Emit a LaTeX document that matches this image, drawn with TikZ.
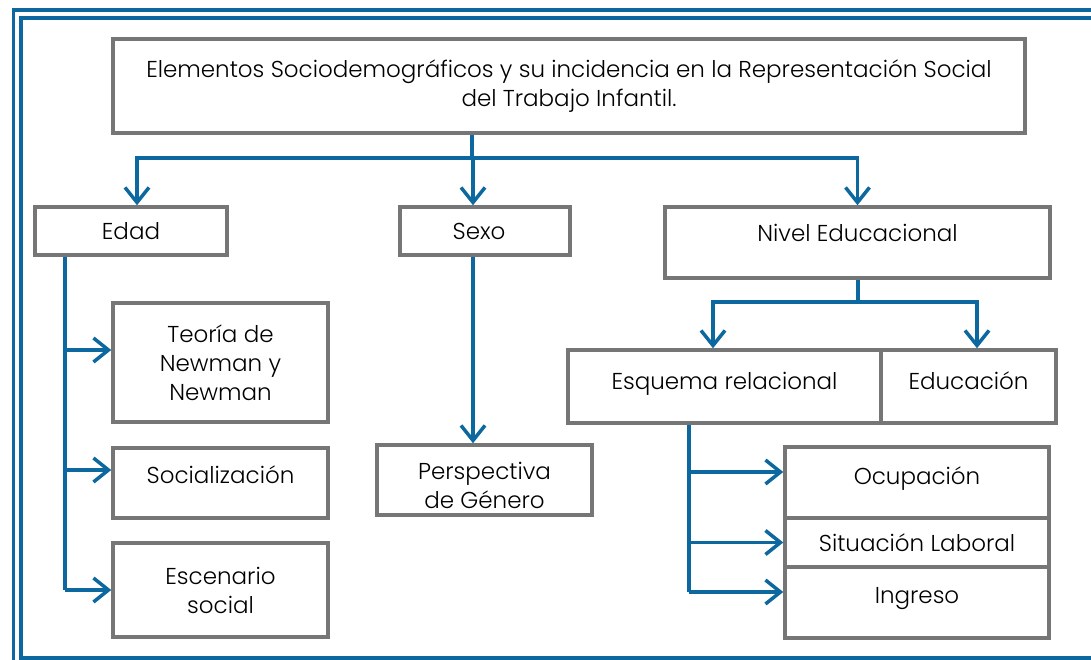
\documentclass[tikz,border=0pt]{standalone}
\usepackage{fontspec}
\setmainfont{Poppins}[UprightFont=* Light]
\usepackage{tikz}
\usetikzlibrary{arrows.meta}

\definecolor{frameblue}{RGB}{12,104,158}
\definecolor{boxgray}{RGB}{118,118,118}

\begin{document}
\begin{tikzpicture}[x=1pt,y=-1pt,
    box/.style={draw=boxgray, line width=3.5pt, inner sep=0pt, align=center,
        font=\fontsize{23}{29}\selectfont},
    link/.style={draw=frameblue, line width=3.5pt},
    tip/.style={-{Straight Barb[length=15pt,width=24pt]}}]

\useasboundingbox (0,0) rectangle (1091,660);
\clip (0,0) rectangle (1091,660);

% ---- Frame ----
\draw[frameblue, line width=3.5pt] (13.5,10) rectangle (1110,680);
\draw[frameblue, line width=3.5pt] (21,18) rectangle (1100,658);

% ---- Boxes ----
\node[box, minimum width=912pt, minimum height=94pt] (title) at (569,86)
    {Elementos Sociodemográficos y su incidencia en la Representación Social\\del Trabajo Infantil.};
\node[box, minimum width=192pt, minimum height=48pt] (edad) at (131,231) {Edad};
\node[box, minimum width=170pt, minimum height=48pt] (sexo) at (485,231) {Sexo\hspace{12pt}};
\node[box, minimum width=385pt, minimum height=71pt, text depth=20pt] (nivel) at (857.5,242.5) {Nivel Educacional};

\node[box, minimum width=215pt, minimum height=119pt] (teoria) at (220.5,362.5) {Teoría de\\Newman y\\Newman};
\node[box, minimum width=215pt, minimum height=70pt, text depth=16pt] (social) at (220.5,483) {Socialización};
\node[box, minimum width=215pt, minimum height=94pt] (escen) at (220.5,590) {Escenario\\social};

\node[box, minimum width=215pt, minimum height=70pt, text height=56pt, text depth=0pt] (persp) at (484.5,480) {Perspectiva\\de Género};

\node[box, minimum width=313pt, minimum height=73pt, text depth=12pt] (esquema) at (724.5,386.5) {Esquema relacional};
\node[box, minimum width=175pt, minimum height=73pt, text depth=12pt] (educ) at (968.5,386.5) {Educación};

\node[box, minimum width=264pt, minimum height=71pt, text depth=14pt] (ocup) at (917,482.5) {Ocupación};
\node[box, minimum width=264pt, minimum height=49pt] (situ) at (917,542.5) {Situación Laboral};
\node[box, minimum width=264pt, minimum height=71pt, text depth=14pt] (ingreso) at (917,602.5) {Ingreso};

% ---- Junctions ----
\coordinate (hub) at (472,158);
\coordinate (nhub) at (858,302);
\coordinate (ecol) at (65,590);
\coordinate (qcol) at (689,592);

% ---- Title to first level ----
\draw[link] (title.south -| hub) -- (hub);
\draw[link, tip] (hub) -| ([xshift=6pt]edad.north);
\draw[link, tip] (hub) -| ([xshift=-12pt]sexo.north);
\draw[link, tip] (hub) -| (nivel.north);

% ---- Edad ----
\draw[link] ([xshift=-66pt]edad.south) -- (ecol);
\foreach \n/\s in {teoria/12.5, social/13, escen/0}
    \draw[link, tip] ([yshift=\s pt]\n.west -| ecol) -- ([yshift=\s pt]\n.west);

% ---- Sexo ----
\draw[link, tip] ([xshift=-12pt]sexo.south) -- ([xshift=-12pt]sexo.south |- persp.north);

% ---- Nivel Educacional ----
\draw[link] (nivel.south -| nhub) -- (nhub);
\draw[link, tip] (nhub) -| ([xshift=-11.5pt]esquema.north);
\draw[link, tip] (nhub) -| ([xshift=8.5pt]educ.north);

% ---- Esquema relacional ----
\draw[link] (esquema.south -| qcol) -- (qcol);
\foreach \n/\s in {ocup/10.5, situ/0, ingreso/10.5}
    \draw[link, tip] ([yshift=\s pt]\n.west -| qcol) -- ([yshift=\s pt]\n.west);

\end{tikzpicture}
\end{document}
